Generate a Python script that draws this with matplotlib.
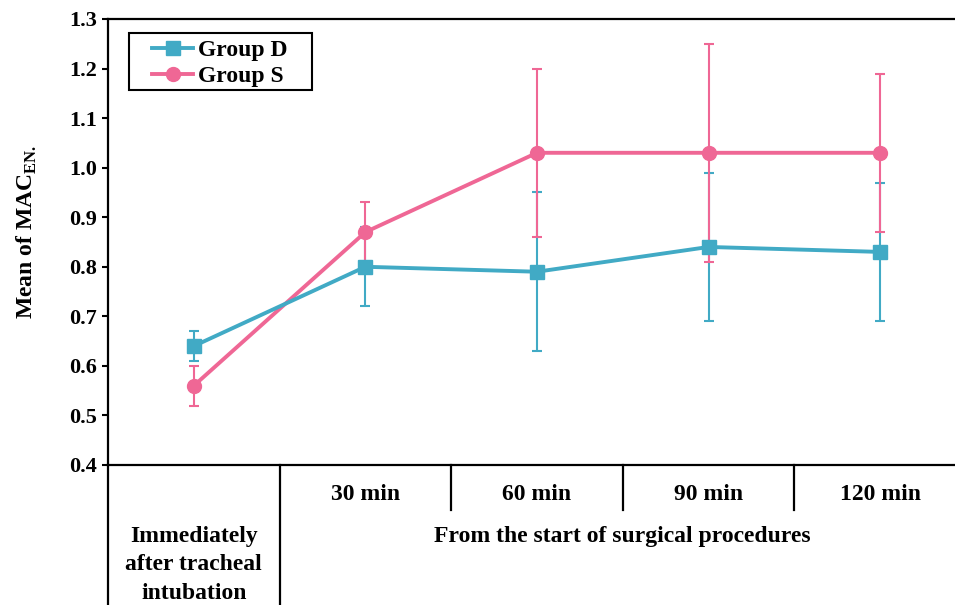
import matplotlib
matplotlib.use('Agg')
import matplotlib.pyplot as plt
from matplotlib.patches import Rectangle

plt.rcParams['font.family'] = 'Liberation Serif'
plt.rcParams['font.weight'] = 'bold'
plt.rcParams['mathtext.fontset'] = 'custom'
plt.rcParams['mathtext.rm'] = 'Liberation Serif:bold'

# data
positions = [0, 1, 2, 3, 4]
time_labels = ['30 min', '60 min', '90 min', '120 min']
group_d = [0.64, 0.80, 0.79, 0.84, 0.83]
group_d_err = [0.03, 0.08, 0.16, 0.15, 0.14]
group_s = [0.56, 0.87, 1.03, 1.03, 1.03]
group_s_err = [0.04, 0.06, 0.17, 0.22, 0.16]

teal = '#41aac5'
pink = '#ef6795'

fig = plt.figure(figsize=(9.55, 6.05), dpi=100)
ax = fig.add_axes([108 / 955, 140 / 605, 858 / 955, 446 / 605])

ax.errorbar(positions, group_d, yerr=group_d_err, fmt='none', ecolor=teal,
            elinewidth=1.5, capsize=3.5, capthick=1.5, zorder=2)
ax.errorbar(positions, group_s, yerr=group_s_err, fmt='none', ecolor=pink,
            elinewidth=1.5, capsize=3.5, capthick=1.5, zorder=2)
ax.plot(positions, group_d, color=teal, lw=2.8, marker='s', ms=10, label='Group D', zorder=4)
ax.plot(positions, group_s, color=pink, lw=2.8, marker='o', ms=10, label='Group S', zorder=3)

ax.set_xlim(-0.5, 4.5)
ax.set_ylim(0.4, 1.3)
ax.set_yticks([0.4, 0.5, 0.6, 0.7, 0.8, 0.9, 1.0, 1.1, 1.2, 1.3])
ax.set_yticklabels(['%.1f' % v for v in ax.get_yticks()])
ax.tick_params(axis='y', direction='out', length=4, width=1.5, labelsize=16, pad=4)
ax.set_xticks([])
for s in ['left', 'top', 'bottom']:
    ax.spines[s].set_linewidth(1.6)
ax.spines['right'].set_visible(False)

ax.set_ylabel(r'Mean of MAC$_{\mathrm{EN.}}$', fontsize=17, fontweight='bold')
ax.yaxis.set_label_coords(-0.080, 0.522)

# legend box drawn separately so the inner padding can match
ax.add_patch(Rectangle((0.0245, 0.8408), 0.2133, 0.1278, transform=ax.transAxes,
                       fill=False, edgecolor='black', lw=1.5, zorder=5))
leg = ax.legend(loc='upper left', bbox_to_anchor=(0.0443, 0.967), fontsize=17,
                frameon=False, handlelength=1.75, handletextpad=0.2,
                borderpad=0.25, labelspacing=0.2, borderaxespad=0)

# table below the axes
tr = ax.get_xaxis_transform()
bottom = -0.32
ax.plot([-0.5, -0.5], [0, bottom], color='black', lw=1.6, transform=tr, clip_on=False)
ax.plot([0.5, 0.5], [0, bottom], color='black', lw=1.6, transform=tr, clip_on=False)
for xb in [1.5, 2.5, 3.5]:
    ax.plot([xb, xb], [0, -0.10], color='black', lw=1.6, transform=tr, clip_on=False)

for p, lab in zip(positions[1:], time_labels):
    ax.text(p, -0.067, lab, transform=tr, ha='center', va='center', fontsize=17)
ax.text(2.5, -0.161, 'From the start of surgical procedures', transform=tr,
        ha='center', va='center', fontsize=17)
for yy, lab in zip([-0.161, -0.224, -0.287], ['Immediately', 'after tracheal', 'intubation']):
    ax.text(0, yy, lab, transform=tr, ha='center', va='center', fontsize=17)

fig.savefig('out.png', dpi=100)
